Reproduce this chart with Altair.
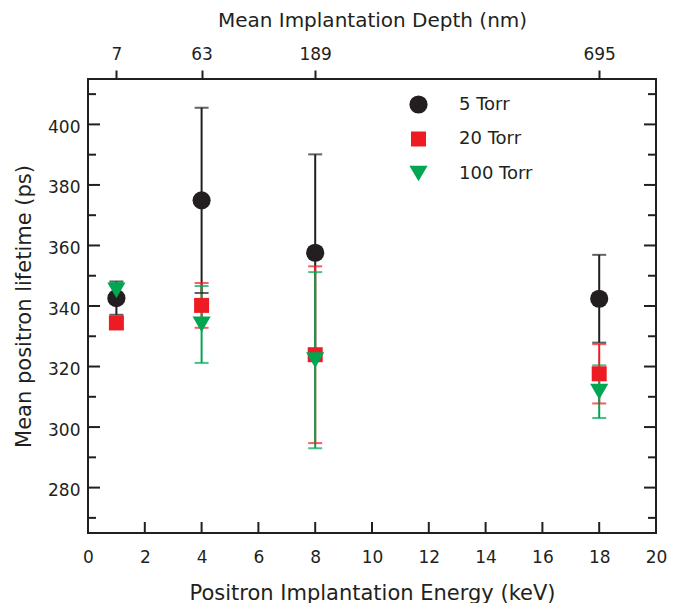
import altair as alt
import pandas as pd

# ---- data ----
energy = [1, 4, 8, 18]                      # keV
depth_labels = ["7", "63", "189", "695"]    # nm (top axis)
series = ["5 Torr", "20 Torr", "100 Torr"]
colors = ["#231f20", "#ed1c24", "#00a651"]
shapes = ["circle", "square", "triangle-down"]
sizes = [330, 225, 330]

lt_5 = [342.6, 374.9, 357.6, 342.4]
err_5 = [5.5, 30.6, 32.5, 14.5]
lt_20 = [334.4, 340.2, 323.9, 317.6]
err_20 = [1.5, 7.4, 29.2, 9.8]
lt_100 = [345.2, 333.9, 322.1, 311.7]
err_100 = [2.5, 12.7, 29.1, 8.7]

y_minor = [270, 290, 310, 330, 350, 370, 390, 410]
y_major = [280, 300, 320, 340, 360, 380, 400]
y_labels = [280, 300, 320, 340, 360, 380, 400]
x_ticks = [2, 4, 6, 8, 10, 12, 14, 16, 18]
x_labels = [0, 2, 4, 6, 8, 10, 12, 14, 16, 18, 20]

rows = []
for s, lt, er in zip(series, [lt_5, lt_20, lt_100], [err_5, err_20, err_100]):
    for e, v, d in zip(energy, lt, er):
        rows.append({"series": s, "energy": e, "lt": v, "lo": v - d, "hi": v + d})
df = pd.DataFrame(rows)

W, H = 568, 454
FONT = "DejaVu Sans"
INK = "#231f20"

xs = alt.Scale(domain=[0, 20], nice=False, zero=False)
ys = alt.Scale(domain=[265, 415], nice=False, zero=False)
cs = alt.Scale(domain=series, range=colors)
ss = alt.Scale(domain=series, range=shapes)
zs = alt.Scale(type="ordinal", domain=series, range=sizes)

X_none = alt.X("energy:Q", scale=xs, axis=None)

bars = alt.Chart(df).mark_rule(strokeWidth=2).encode(
    x=X_none,
    y=alt.Y("lo:Q", scale=ys, axis=None),
    y2="hi:Q",
    color=alt.Color("series:N", scale=cs, legend=None),
)
cap_lo = alt.Chart(df).mark_tick(orient="horizontal", size=14, thickness=2).encode(
    x=X_none,
    y=alt.Y("lo:Q", scale=ys, axis=None),
    color=alt.Color("series:N", scale=cs, legend=None),
)
cap_hi = alt.Chart(df).mark_tick(orient="horizontal", size=14, thickness=2).encode(
    x=X_none,
    y=alt.Y("hi:Q", scale=ys, axis=None),
    color=alt.Color("series:N", scale=cs, legend=None),
)

legend = alt.Legend(
    title=None, orient="none", legendX=321, legendY=16, symbolSize=300,
    labelFontSize=18, labelFont=FONT, labelColor=INK, labelOffset=31,
    rowPadding=16, padding=0, symbolStrokeWidth=0,
)

points = alt.Chart(df).mark_point(filled=True, opacity=1, strokeWidth=0).encode(
    x=alt.X(
        "energy:Q", scale=xs,
        axis=alt.Axis(
            orient="bottom", values=x_labels, title="Positron Implantation Energy (keV)",
            tickSize=0, domain=False, grid=False, labelPadding=16, titlePadding=17,
            labelFontSize=17, titleFontSize=21, labelFlush=False,
        ),
    ),
    y=alt.Y(
        "lt:Q", scale=ys,
        axis=alt.Axis(
            orient="left", values=y_labels, title="Mean positron lifetime (ps)", tickSize=0,
            domain=False, grid=False, labelPadding=8, titlePadding=13, labelOffset=3,
            labelFontSize=17, titleFontSize=21, labelFlush=False,
        ),
    ),
    color=alt.Color("series:N", scale=cs, legend=legend),
    shape=alt.Shape("series:N", scale=ss, legend=legend),
    size=alt.Size("series:N", scale=zs, legend=None),
)

expr = " : ".join(f"datum.value == {e} ? '{d}'" for e, d in zip(energy, depth_labels)) + " : ''"
top_df = pd.DataFrame({"energy": energy, "depth": depth_labels})
top_axis = alt.Chart(top_df).mark_point(opacity=0).encode(
    x=alt.X(
        "energy:Q", scale=xs,
        axis=alt.Axis(
            orient="top", values=energy, labelExpr=expr, title="Mean Implantation Depth (nm)",
            tickSize=9, tickWidth=2, tickColor=INK, domain=False, grid=False,
            labelPadding=7, titlePadding=15, labelFontSize=17, titleFontSize=20,
            labelFlush=False,
        ),
    ),
    y=alt.value(0),
)

ymin_df = pd.DataFrame({"v": y_minor})
ymaj_df = pd.DataFrame({"v": y_major})
xt_df = pd.DataFrame({"v": x_ticks})
tick_style = dict(color=INK, strokeWidth=2)

left_minor = alt.Chart(ymin_df).mark_rule(**tick_style).encode(
    y=alt.Y("v:Q", scale=ys, axis=None), x=alt.value(0), x2=alt.value(8))
left_major = alt.Chart(ymaj_df).mark_rule(**tick_style).encode(
    y=alt.Y("v:Q", scale=ys, axis=None), x=alt.value(0), x2=alt.value(12))
right_minor = alt.Chart(ymin_df).mark_rule(**tick_style).encode(
    y=alt.Y("v:Q", scale=ys, axis=None), x=alt.value(W), x2=alt.value(W - 8))
right_major = alt.Chart(ymaj_df).mark_rule(**tick_style).encode(
    y=alt.Y("v:Q", scale=ys, axis=None), x=alt.value(W), x2=alt.value(W - 12))
bottom_ticks = alt.Chart(xt_df).mark_rule(**tick_style).encode(
    x=alt.X("v:Q", scale=xs, axis=None), y=alt.value(H), y2=alt.value(H - 11))

chart = alt.layer(
    left_minor, left_major, right_minor, right_major, bottom_ticks,
    bars, cap_lo, cap_hi, points, top_axis,
).resolve_axis(x="independent", y="independent").resolve_legend(
    color="independent", shape="independent", size="independent",
).properties(
    width=W, height=H,
    autosize=alt.AutoSizeParams(type="none"),
    padding={"left": 80, "top": 71, "right": 17, "bottom": 70},
).configure_view(
    stroke=INK, strokeWidth=2,
).configure_axis(
    labelFont=FONT, titleFont=FONT, labelColor=INK, titleColor=INK,
    titleFontWeight="normal",
)

chart.save("out.html", embed_options={"renderer": "svg", "actions": False})
